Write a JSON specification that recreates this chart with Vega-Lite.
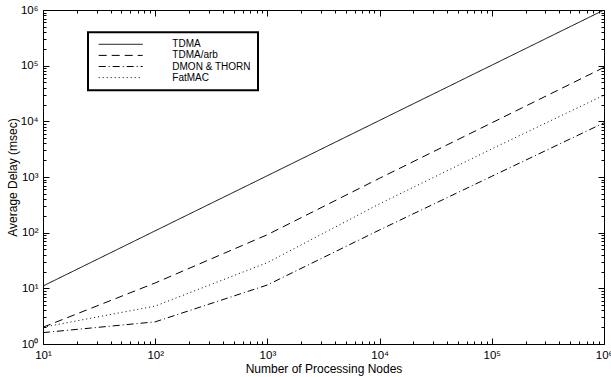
{
  "$schema": "https://vega.github.io/schema/vega-lite/v6.json",
  "width": 561,
  "height": 334,
  "autosize": "none",
  "padding": {"left": 43, "top": 10, "right": 7, "bottom": 33},
  "background": "white",
  "config": {
    "font": "Liberation Sans",
    "view": {"stroke": "black", "strokeWidth": 1},
    "axis": {
      "domainColor": "black",
      "tickColor": "black",
      "labelColor": "black",
      "titleColor": "black",
      "labelFont": "Liberation Sans",
      "titleFont": "Liberation Sans",
      "labelFontSize": 11.5,
      "titleFontSize": 12,
      "titleFontWeight": "normal",
      "grid": false
    }
  },
  "datasets": {
    "delays": [
      {"protocol": "TDMA", "nodes": 10, "delay": 11},
      {"protocol": "TDMA", "nodes": 100, "delay": 108},
      {"protocol": "TDMA", "nodes": 1000, "delay": 1057},
      {"protocol": "TDMA", "nodes": 10000, "delay": 10400},
      {"protocol": "TDMA", "nodes": 100000, "delay": 102000},
      {"protocol": "TDMA", "nodes": 1000000, "delay": 1000000},
      {"protocol": "TDMA/arb", "nodes": 10, "delay": 2.0},
      {"protocol": "TDMA/arb", "nodes": 100, "delay": 12.5},
      {"protocol": "TDMA/arb", "nodes": 1000, "delay": 92},
      {"protocol": "TDMA/arb", "nodes": 10000, "delay": 950},
      {"protocol": "TDMA/arb", "nodes": 100000, "delay": 9400},
      {"protocol": "TDMA/arb", "nodes": 1000000, "delay": 93000},
      {"protocol": "DMON & THORN", "nodes": 10, "delay": 1.6},
      {"protocol": "DMON & THORN", "nodes": 100, "delay": 2.5},
      {"protocol": "DMON & THORN", "nodes": 1000, "delay": 11.5},
      {"protocol": "DMON & THORN", "nodes": 10000, "delay": 112},
      {"protocol": "DMON & THORN", "nodes": 100000, "delay": 1030},
      {"protocol": "DMON & THORN", "nodes": 1000000, "delay": 9400},
      {"protocol": "FatMAC", "nodes": 10, "delay": 2.0},
      {"protocol": "FatMAC", "nodes": 100, "delay": 4.8},
      {"protocol": "FatMAC", "nodes": 1000, "delay": 29},
      {"protocol": "FatMAC", "nodes": 10000, "delay": 330},
      {"protocol": "FatMAC", "nodes": 100000, "delay": 3200},
      {"protocol": "FatMAC", "nodes": 1000000, "delay": 29500}
    ]
  },
  "data": {"name": "delays"},
  "layer": [
    {
      "mark": {"type": "line", "color": "black", "strokeWidth": 1, "clip": true},
      "encoding": {
        "x": {
          "field": "nodes", "type": "quantitative",
          "scale": {"type": "log", "domain": [10, 1000000]},
          "axis": {
            "orient": "bottom",
            "title": "Number of Processing Nodes",
            "titlePadding": 3,
            "values": [10, 100, 1000, 10000, 100000, 1000000],
            "labelExpr": "'10' + ['⁰','¹','²','³','⁴','⁵','⁶'][round(log(datum.value)/LN10)]",
            "tickSize": -6,
            "labelPadding": 11,
            "labelFlush": false,
            "labelOverlap": false
          }
        },
        "y": {
          "field": "delay", "type": "quantitative",
          "scale": {"type": "log", "domain": [1, 1000000]},
          "axis": {
            "orient": "left",
            "title": "Average Delay (msec)",
            "titlePadding": 1,
            "values": [1, 10, 100, 1000, 10000, 100000, 1000000],
            "labelExpr": "'10' + ['⁰','¹','²','³','⁴','⁵','⁶'][round(log(datum.value)/LN10)]",
            "tickSize": -6,
            "labelPadding": 11,
            "labelFlush": false,
            "labelOverlap": false
          }
        },
        "strokeDash": {
          "field": "protocol", "type": "nominal",
          "sort": ["TDMA", "TDMA/arb", "DMON & THORN", "FatMAC"],
          "scale": {"domain": ["TDMA", "TDMA/arb", "DMON & THORN", "FatMAC"], "range": [[1, 0], [8, 5], [7, 3, 1, 3], [1, 3]]},
          "legend": {
            "orient": "none",
            "legendX": 45,
            "legendY": 22.3,
            "title": null,
            "strokeColor": "black",
            "padding": 7,
            "symbolType": "M-11,0H11",
            "symbolSize": 16,
            "symbolStrokeWidth": 1,
            "symbolStrokeColor": "black",
            "symbolOffset": 20.7,
            "labelOffset": 46.6,
            "labelFontSize": 10,
            "labelFont": "Liberation Sans",
            "labelColor": "black",
            "rowPadding": 1.1,
            "encode": {"legend": {"update": {"strokeWidth": {"value": 2}}}}
          }
        }
      }
    },
    {
      "mark": {"type": "line", "opacity": 0},
      "encoding": {
        "x": {
          "field": "nodes", "type": "quantitative",
          "axis": {"orient": "top", "title": null, "labels": false, "domain": false, "values": [10, 100, 1000, 10000, 100000, 1000000], "tickSize": -6}
        },
        "y": {
          "field": "delay", "type": "quantitative",
          "axis": {"orient": "right", "title": null, "labels": false, "domain": false, "values": [1, 10, 100, 1000, 10000, 100000, 1000000], "tickSize": -6}
        },
        "detail": {"field": "protocol", "type": "nominal"}
      }
    },
    {
      "mark": {"type": "line", "opacity": 0},
      "encoding": {
        "x": {
          "field": "nodes", "type": "quantitative",
          "axis": {"orient": "bottom", "title": null, "labels": false, "domain": false,
            "values": [20,30,40,50,60,70,80,90,200,300,400,500,600,700,800,900,2000,3000,4000,5000,6000,7000,8000,9000,20000,30000,40000,50000,60000,70000,80000,90000,200000,300000,400000,500000,600000,700000,800000,900000],
            "tickSize": -3}
        },
        "y": {
          "field": "delay", "type": "quantitative",
          "axis": {"orient": "left", "title": null, "labels": false, "domain": false,
            "values": [2,3,4,5,6,7,8,9,20,30,40,50,60,70,80,90,200,300,400,500,600,700,800,900,2000,3000,4000,5000,6000,7000,8000,9000,20000,30000,40000,50000,60000,70000,80000,90000,200000,300000,400000,500000,600000,700000,800000,900000],
            "tickSize": -3}
        },
        "detail": {"field": "protocol", "type": "nominal"}
      }
    },
    {
      "mark": {"type": "line", "opacity": 0},
      "encoding": {
        "x": {
          "field": "nodes", "type": "quantitative",
          "axis": {"orient": "top", "title": null, "labels": false, "domain": false,
            "values": [20,30,40,50,60,70,80,90,200,300,400,500,600,700,800,900,2000,3000,4000,5000,6000,7000,8000,9000,20000,30000,40000,50000,60000,70000,80000,90000,200000,300000,400000,500000,600000,700000,800000,900000],
            "tickSize": -3}
        },
        "y": {
          "field": "delay", "type": "quantitative",
          "axis": {"orient": "right", "title": null, "labels": false, "domain": false,
            "values": [2,3,4,5,6,7,8,9,20,30,40,50,60,70,80,90,200,300,400,500,600,700,800,900,2000,3000,4000,5000,6000,7000,8000,9000,20000,30000,40000,50000,60000,70000,80000,90000,200000,300000,400000,500000,600000,700000,800000,900000],
            "tickSize": -3}
        },
        "detail": {"field": "protocol", "type": "nominal"}
      }
    }
  ],
  "resolve": {"axis": {"x": "independent", "y": "independent"}}
}
